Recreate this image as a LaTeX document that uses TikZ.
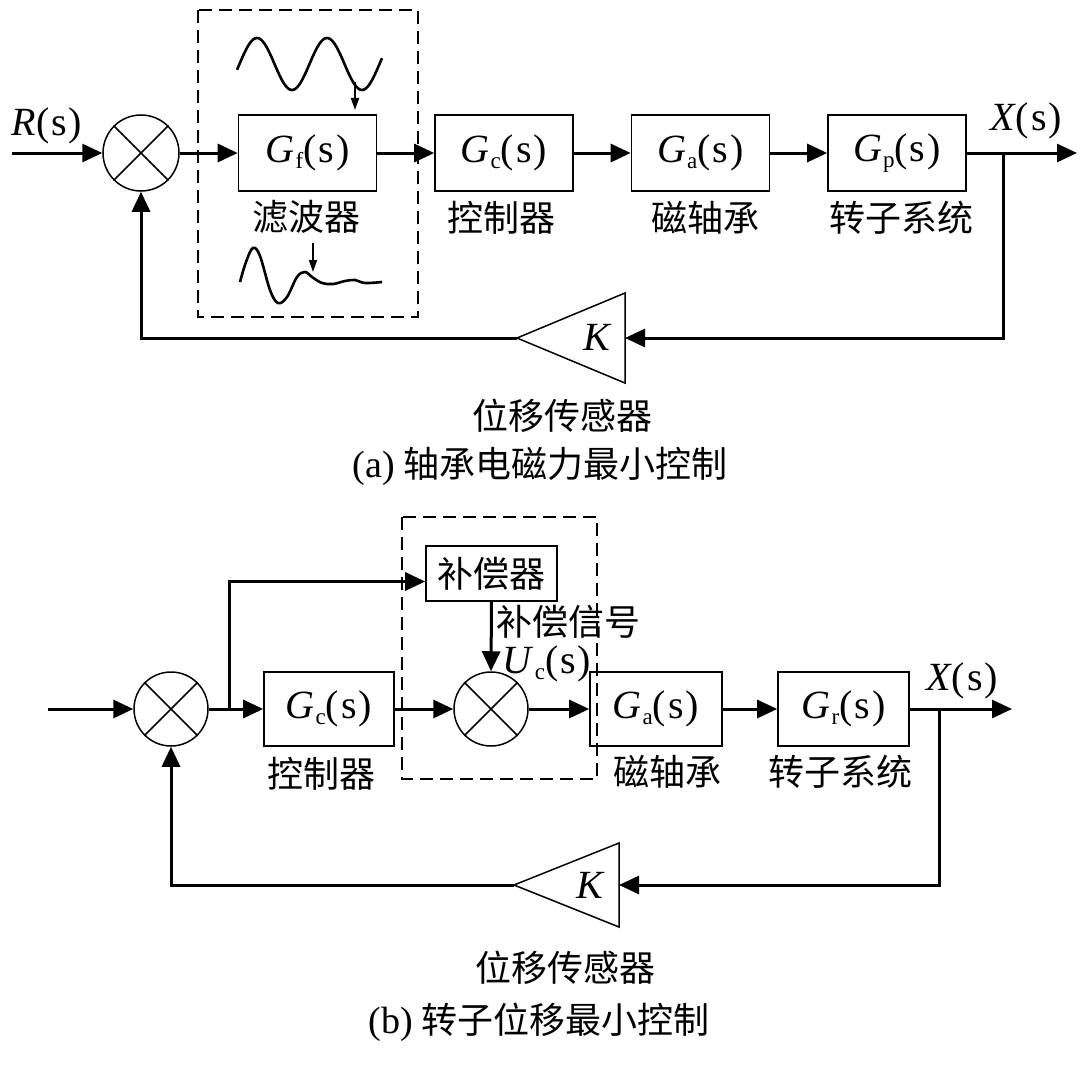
\documentclass[tikz,border=0pt]{standalone}
\usepackage{fontspec}
\setmainfont{Liberation Serif}
\newfontfamily\cjk{Noto Sans CJK SC}
\usetikzlibrary{arrows.meta}
\newcommand\mysub[1]{\raisebox{-6pt}{\fontsize{23}{23}\selectfont #1}}
\newcommand\Gsub[1]{\textit{G}\kern1pt\mysub{#1}(\kern2pt s\kern2pt)}
\newcommand\Fs[1]{\textit{#1}(\kern2pt s\kern2pt)}
\begin{document}
\begin{tikzpicture}[x=1pt,y=-1pt,
  arr/.style={line width=3pt,-{Triangle[length=20pt,width=18pt]}},
  blk/.style={draw,line width=1.6pt,minimum width=138pt,minimum height=76pt,inner sep=0pt,font=\fontsize{40}{44}\selectfont},
  sumc/.style={draw,circle,line width=1.5pt,minimum size=76pt,inner sep=0pt},
  cjkl/.style={font=\fontsize{36}{40}\selectfont\cjk,inner sep=0pt},
  lat/.style={font=\fontsize{40}{44}\selectfont,inner sep=0pt},
  dbox/.style={draw,line width=2.2pt,dash pattern=on 13pt off 7pt},
  tri/.style={draw,line width=1.5pt},
  wave/.style={line width=2.6pt},
  sarr/.style={line width=1.8pt,-{Triangle[length=12pt,width=8pt]}},
  cross/.style={line width=1.5pt}
]
\useasboundingbox[fill=white] (0,0) rectangle (1080,1065);

% ---------------- (a) ----------------
\draw[dbox] (198,10) rectangle (418,317);

\node[sumc] (c1) at (141,153) {};
\draw[cross] (c1.north west) -- (c1.south east) (c1.north east) -- (c1.south west);
\node[blk] (gf) at (307.5,153) {\Gsub{f}};
\node[blk] (gc) at (504,153) {\Gsub{c}};
\node[blk] (ga) at (700.5,153) {\Gsub{a}};
\node[blk] (gp) at (897,153) {\Gsub{p}};

\coordinate (rin) at (12,153);
\coordinate (xa) at (1077,153);
\coordinate (bra) at (1003,153);
\coordinate (kab) at (625,338);
\coordinate (kaa) at (517,338);
\draw[tri] (625,293) -- (625,383) -- (kaa) -- cycle;
\node[lat] (ka) at (598,337) {\textit{K}};

\draw[arr] (rin) -- (c1);
\draw[arr] (c1) -- (gf);
\draw[arr] (gf) -- (gc);
\draw[arr] (gc) -- (ga);
\draw[arr] (ga) -- (gp);
\draw[arr] (gp) -- (xa);
\draw[arr] (bra) |- (kab);
\draw[arr] (kaa) -| (c1.south);

% waves
\draw[wave] plot[domain=0:145,samples=90,smooth] ({237+\x},{64-26*cos(5.142857*(\x-20))});
\coordinate (w1s) at (355,82);
\coordinate (w1e) at (355,110);
\draw[sarr] (w1s) -- (w1e);
\draw[wave] plot[smooth,tension=0.6] coordinates {(240,282) (246,262) (253,248) (260,256) (270,290) (278,303) (287,297) (297,277) (305,272) (312,277) (322,283) (333,284) (345,281) (355,280) (365,283) (382,282)};
\coordinate (w2s) at (313,243);
\coordinate (w2e) at (313,272);
\draw[sarr] (w2s) -- (w2e);

\node[lat] (rl) at (47,126) {\Fs{R}};
\node[lat] (xl) at (1026,121) {\Fs{X}};
\node[cjkl] (l1) at (306,217) {滤波器};
\node[cjkl] (l2) at (501,218) {控制器};
\node[cjkl] (l3) at (705,218) {磁轴承};
\node[cjkl] (l4) at (901,218) {转子系统};
\node[cjkl] (l5) at (562,416) {位移传感器};
\node[cjkl] (cap1) at (540,466) {{\rmfamily\fontsize{38}{40}\selectfont (a)} 轴承电磁力最小控制};

% ---------------- (b) ----------------
\draw[dbox] (402,517) rectangle (597,779);

\node[sumc,minimum size=74pt] (c3) at (171,709) {};
\draw[cross] (c3.north west) -- (c3.south east) (c3.north east) -- (c3.south west);
\node[blk,minimum width=130pt,minimum height=74pt] (gc2) at (329,709) {\Gsub{c}};
\node[sumc,minimum size=74pt] (c4) at (491,709) {};
\draw[cross] (c4.north west) -- (c4.south east) (c4.north east) -- (c4.south west);
\node[blk,minimum width=132pt,minimum height=74pt] (ga2) at (656,709) {\Gsub{a}};
\node[blk,minimum width=131pt,minimum height=74pt] (gr) at (843.5,709) {\Gsub{r}};
\node[draw,line width=1.6pt,minimum width=131pt,minimum height=55pt,inner sep=0pt,font=\fontsize{36}{40}\selectfont\cjk] (comp) at (491.5,573.5) {补偿器};

\coordinate (rin2) at (48,709);
\coordinate (br2) at (229,709);
\coordinate (xb) at (1012,709);
\coordinate (brb) at (939,709);
\coordinate (kbb) at (619,885);
\coordinate (kba) at (514,885);
\draw[tri] (619,843) -- (619,927) -- (kba) -- cycle;
\node[lat] (kb) at (591,885) {\textit{K}};

\draw[arr] (rin2) -- (c3);
\draw[arr] (c3) -- (gc2);
\draw[arr] (br2) |- ([yshift=-8pt]comp.west);
\draw[arr] (comp.south) -- (c4.north);
\draw[arr] (gc2) -- (c4);
\draw[arr] (c4) -- (ga2);
\draw[arr] (ga2) -- (gr);
\draw[arr] (gr) -- (xb);
\draw[arr] (brb) |- (kbb);
\draw[arr] (kba) -| (c3.south);

\node[cjkl] (sig) at (568,622) {补偿信号};
\node[lat] (uc) at (547,664) {\textit{U}\kern1pt\mysub{c}(\kern2pt s\kern2pt)};
\node[lat] (xl2) at (962,681) {\Fs{X}};
\node[cjkl] (m1) at (321,774) {控制器};
\node[cjkl] (m2) at (667,772) {磁轴承};
\node[cjkl] (m3) at (840,772) {转子系统};
\node[cjkl] (m4) at (565,968) {位移传感器};
\node[cjkl] (cap2) at (539,1022) {{\rmfamily\fontsize{38}{40}\selectfont (b)} 转子位移最小控制};
\end{tikzpicture}
\end{document}
